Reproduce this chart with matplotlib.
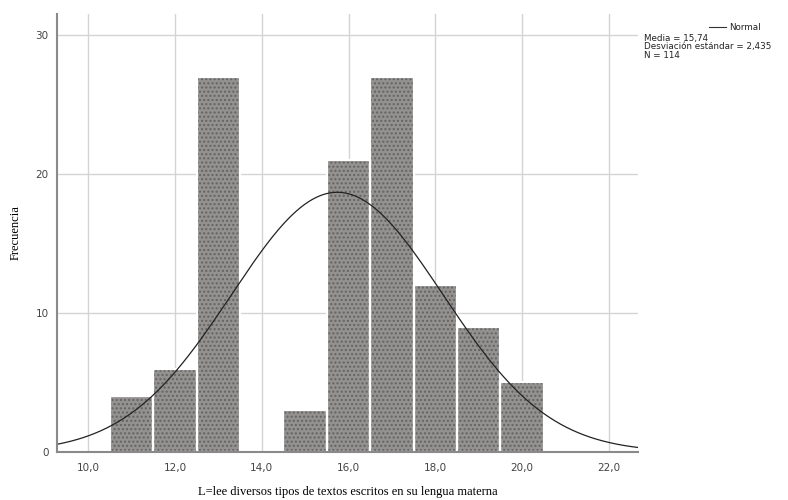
import numpy as np
import matplotlib
matplotlib.use("Agg")
import matplotlib.pyplot as plt

# Histogram data (bin centres, width 1)
bin_centres = [11, 12, 13, 15, 16, 17, 18, 19, 20]
frequencies = [4, 6, 27, 3, 21, 27, 12, 9, 5]
x_ticks = [10, 12, 14, 16, 18, 20, 22]
x_tick_labels = ["10,0", "12,0", "14,0", "16,0", "18,0", "20,0", "22,0"]
y_ticks = [0, 10, 20, 30]

mean = 15.74
std = 2.435
n = 114

fig = plt.figure(figsize=(7.88, 5), dpi=100)
ax = fig.add_axes([0.0723, 0.096, 0.7373, 0.876])

xmin, xmax = 9.28, 22.67
ax.set_xlim(xmin, xmax)
ax.set_ylim(0, 31.5)

ax.set_axisbelow(True)
ax.grid(True, color="#d4d4d4", linewidth=1.0)

# bars: hatched fill, then white outline to make the gaps
ax.bar(bin_centres, frequencies, width=1.0, color="#949191",
       edgecolor="#656262", hatch="....", linewidth=0, zorder=2)
ax.bar(bin_centres, frequencies, width=1.0, facecolor="none",
       edgecolor="white", linewidth=1.6, zorder=3)

# normal curve scaled to counts
xs = np.linspace(xmin, xmax, 400)
ys = n * 1.0 / (std * np.sqrt(2 * np.pi)) * np.exp(-0.5 * ((xs - mean) / std) ** 2)
ax.plot(xs, ys, color="#222222", linewidth=0.9, zorder=4)

ax.set_xticks(x_ticks)
ax.set_xticklabels(x_tick_labels)
ax.set_yticks(y_ticks)
ax.tick_params(length=0, labelsize=7.5, labelcolor="#444444", pad=8)
ax.tick_params(axis="y", pad=6)

for side in ["top", "right"]:
    ax.spines[side].set_visible(False)
for side in ["left", "bottom"]:
    ax.spines[side].set_color("#8a8a8a")
    ax.spines[side].set_linewidth(1.5)
    ax.spines[side].set_zorder(5)

ax.set_xlabel("L=lee diversos tipos de textos escritos en su lengua materna",
              family="Liberation Serif", fontsize=9, labelpad=9)
ax.set_ylabel("Frecuencia", family="Liberation Serif", fontsize=9, labelpad=10)

# legend / stats box
fig.lines.append(plt.Line2D([709 / 788, 726 / 788], [1 - 27 / 500, 1 - 27 / 500],
                            color="#333333", linewidth=0.8, transform=fig.transFigure))
fig.text(729 / 788, 1 - 27 / 500, "Normal", fontsize=6.3, va="center", color="#222222")
fig.text(644 / 788, 1 - 38 / 500, "Media = 15,74", fontsize=6.3, va="center", color="#222222")
fig.text(644 / 788, 1 - 47 / 500, "Desviación estándar = 2,435", fontsize=6.3,
         va="center", color="#222222")
fig.text(644 / 788, 1 - 56 / 500, "N = 114", fontsize=6.3, va="center", color="#222222")

fig.savefig("out.png", dpi=100)
